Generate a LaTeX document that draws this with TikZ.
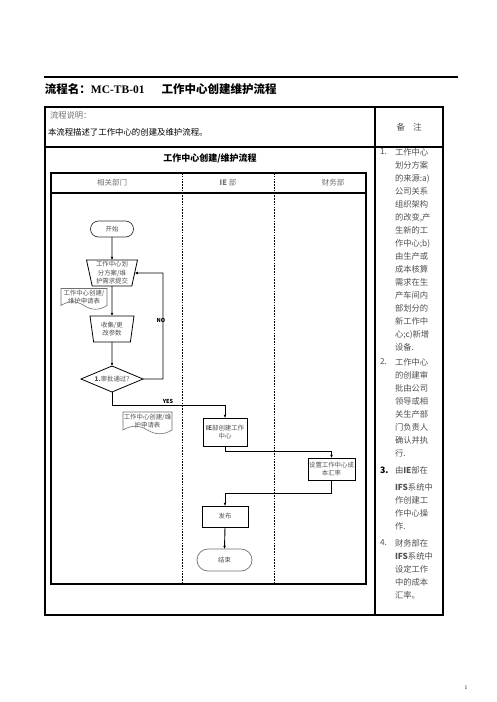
\documentclass[tikz,border=0pt]{standalone}
\usepackage{fontspec}
\setmainfont{Liberation Serif}
\newfontfamily\cjk{Noto Sans CJK SC}
\usetikzlibrary{shapes.geometric,arrows.meta,calc}
\definecolor{txtgray}{HTML}{505050}
\definecolor{lgray}{HTML}{707070}
\begin{document}
\begin{tikzpicture}[x=1pt,y=-1pt,
 every node/.style={inner sep=0pt,outer sep=0pt},
 tframe/.style={line width=1.1pt},
 laneline/.style={line width=0.7pt,dash pattern=on 1.6pt off 1.2pt},
 arr/.style={line width=0.9pt,-{Latex[length=3.2pt,width=2.8pt]}},
 fc/.style={font=\cjk\fontsize{6.4}{8.5}\selectfont,text=txtgray,align=center},
 boxline/.style={draw=black,line width=0.8pt},
 docline/.style={draw=lgray,line width=0.6pt},
 remtxt/.style={font=\cjk\fontsize{8.3}{13}\selectfont,text=txtgray,align=left,anchor=north west},
 remnum/.style={font=\cjk\fontsize{8.3}{13}\selectfont,text=txtgray,anchor=west},
 lanelab/.style={font=\cjk\fontsize{7.5}{9}\selectfont,text=lgray},
 flowlab/.style={font=\cjk\bfseries\fontsize{5.5}{6}\selectfont,text=black}
]
\useasboundingbox[fill=white] (0,0) rectangle (496,702);

% top bar and title
\draw[line width=2.6pt] (44,77) -- (458,77);
\node[anchor=west,font=\fontsize{11.5}{14}\selectfont] (title) at (45,89)
  {{\cjk\bfseries 流程名：}\textbf{MC-TB-01}\hspace{17pt}{\cjk\bfseries 工作中心创建维护流程}};

% outer table
\draw[tframe] (45,107) rectangle (443,615);
\draw[tframe] (375,107) -- (375,615);
\draw[tframe] (45,147) -- (443,147);
\node[anchor=west,font=\cjk\fontsize{8.3}{10}\selectfont,text=lgray] (hd1) at (50,115) {流程说明：};
\node[anchor=west,font=\cjk\fontsize{8.4}{10}\selectfont,text=black] (hd2) at (48,132) {本流程描述了工作中心的创建及维护流程。};
\node[font=\cjk\fontsize{8.5}{10}\selectfont,text=txtgray] (bz) at (409,127) {备\hspace{8pt}注};

% flow chart frame
\node[font=\cjk\bfseries\fontsize{9}{11}\selectfont] (fctitle) at (210,158) {工作中心创建/维护流程};
\draw[tframe] (51,173) rectangle (366,584);
\draw[tframe] (51,193) -- (366,193);
\draw[laneline] (182,173) -- (182,584);
\draw[laneline] (274,173) -- (274,584);
\node[lanelab] (l1) at (112,183) {相关部门};
\node[lanelab] (l2) at (228,183) {\textbf{IE} 部};
\node[lanelab] (l3) at (333,183) {财务部};

% nodes
\node[fc,draw=black!80,line width=0.7pt,rounded corners=8pt,minimum width=43pt,minimum height=16pt] (start) at (112,229) {开始};
\node[fc,boxline,trapezium,trapezium left angle=104,trapezium right angle=104,trapezium stretches body,minimum width=51pt,minimum height=26pt] (t1) at (112,273) {工作中心划\\分方案/维\\护需求提交};
\node[fc,minimum width=46pt,minimum height=17pt] (doc1) at (84,297) {工作中心创建/\\维护申请表};
\draw[docline] (doc1.north west) -- (doc1.north east) -- (doc1.south east)
  .. controls +(-8,5) and +(8,5) .. (doc1.south)
  .. controls +(-8,-5) and +(8,-5) .. (doc1.south west) -- cycle;
\node[fc,boxline,trapezium,trapezium left angle=104,trapezium right angle=104,trapezium stretches body,minimum width=44pt,minimum height=26pt] (t2) at (112,329) {收集/更\\改参数};
\node[fc,boxline,diamond,aspect=2.4,minimum width=62pt,minimum height=26pt] (d1) at (112,379) {\textbf{1.}审批通过?};
\coordinate (nox) at (163,273);
\coordinate (yc) at (112,405);
\node[flowlab] (nolab) at (161,320) {NO};
\node[flowlab] (yeslab) at (168,401) {YES};
\node[fc,minimum width=49pt,minimum height=18pt] (doc2) at (147.5,421) {工作中心创建/维\\护申请表};
\draw[docline] (doc2.north west) -- (doc2.north east) -- (doc2.south east)
  .. controls +(-8,5) and +(8,5) .. (doc2.south)
  .. controls +(-8,-5) and +(8,-5) .. (doc2.south west) -- cycle;
\node[fc,boxline,minimum width=44pt,minimum height=28pt] (ie) at (225,432) {\textbf{IE}部创建工作\\中心};
\coordinate (c2) at (225,451);
\node[fc,boxline,minimum width=47pt,minimum height=22pt] (fin) at (331.5,469) {设置工作中心成\\本汇率};
\coordinate (c3) at (331.5,493);
\node[fc,boxline,minimum width=46pt,minimum height=21pt] (pub) at (225,516.5) {发布};
\node[fc,draw=lgray,line width=0.7pt,rounded corners=11pt,minimum width=55pt,minimum height=22pt] (end) at (224.5,560) {结束};

% connectors
\draw[arr] (start.south) -- (t1.north);
\draw[arr] (t1.south) -- (t2.north);
\draw[arr] (t2.south) -- (d1.north);
\draw[arr] (d1.east) -| (nox) -- (t1.east);
\draw[arr] (d1.south) -- (yc) -| (ie.north);
\draw[arr] (ie.south) -- (c2) -| (fin.north);
\draw[arr] (fin.south) -- (c3) -| (pub.north);
\draw[arr] (pub.south) -- (end.north);

% remarks
\node[remnum] (n1) at (380,152) {1.};
\node[remtxt] (r1) at (395,148.2) {工作中心\\划分方案\\的来源:a)\\公司关系\\组织架构\\的改变,产\\生新的工\\作中心;b)\\由生产或\\成本核算\\需求在生\\产车间内\\部划分的\\新工作中\\心;c)新增\\设备.};
\node[remnum] (n2) at (380,362) {2.};
\node[remtxt] (r2) at (395,358.2) {工作中心\\的创建审\\批由公司\\领导或相\\关生产部\\门负责人\\确认并执\\行.};
\node[remnum,font=\cjk\bfseries\fontsize{8.8}{13}\selectfont,text=black] (n3) at (380,470) {3.};
\node[remtxt] (r3) at (395,466.2) {由\textbf{IE}部在\\[4pt]\textbf{IFS}系统中\\作创建工\\作中心操\\作.};
\node[remnum] (n4) at (380,543) {4.};
\node[remtxt] (r4) at (395,539.2) {财务部在\\\textbf{IFS}系统中\\设定工作\\中的成本\\汇率。};

\node[font=\fontsize{5.5}{6}\selectfont] (pg) at (466,688) {1};
\end{tikzpicture}
\end{document}
